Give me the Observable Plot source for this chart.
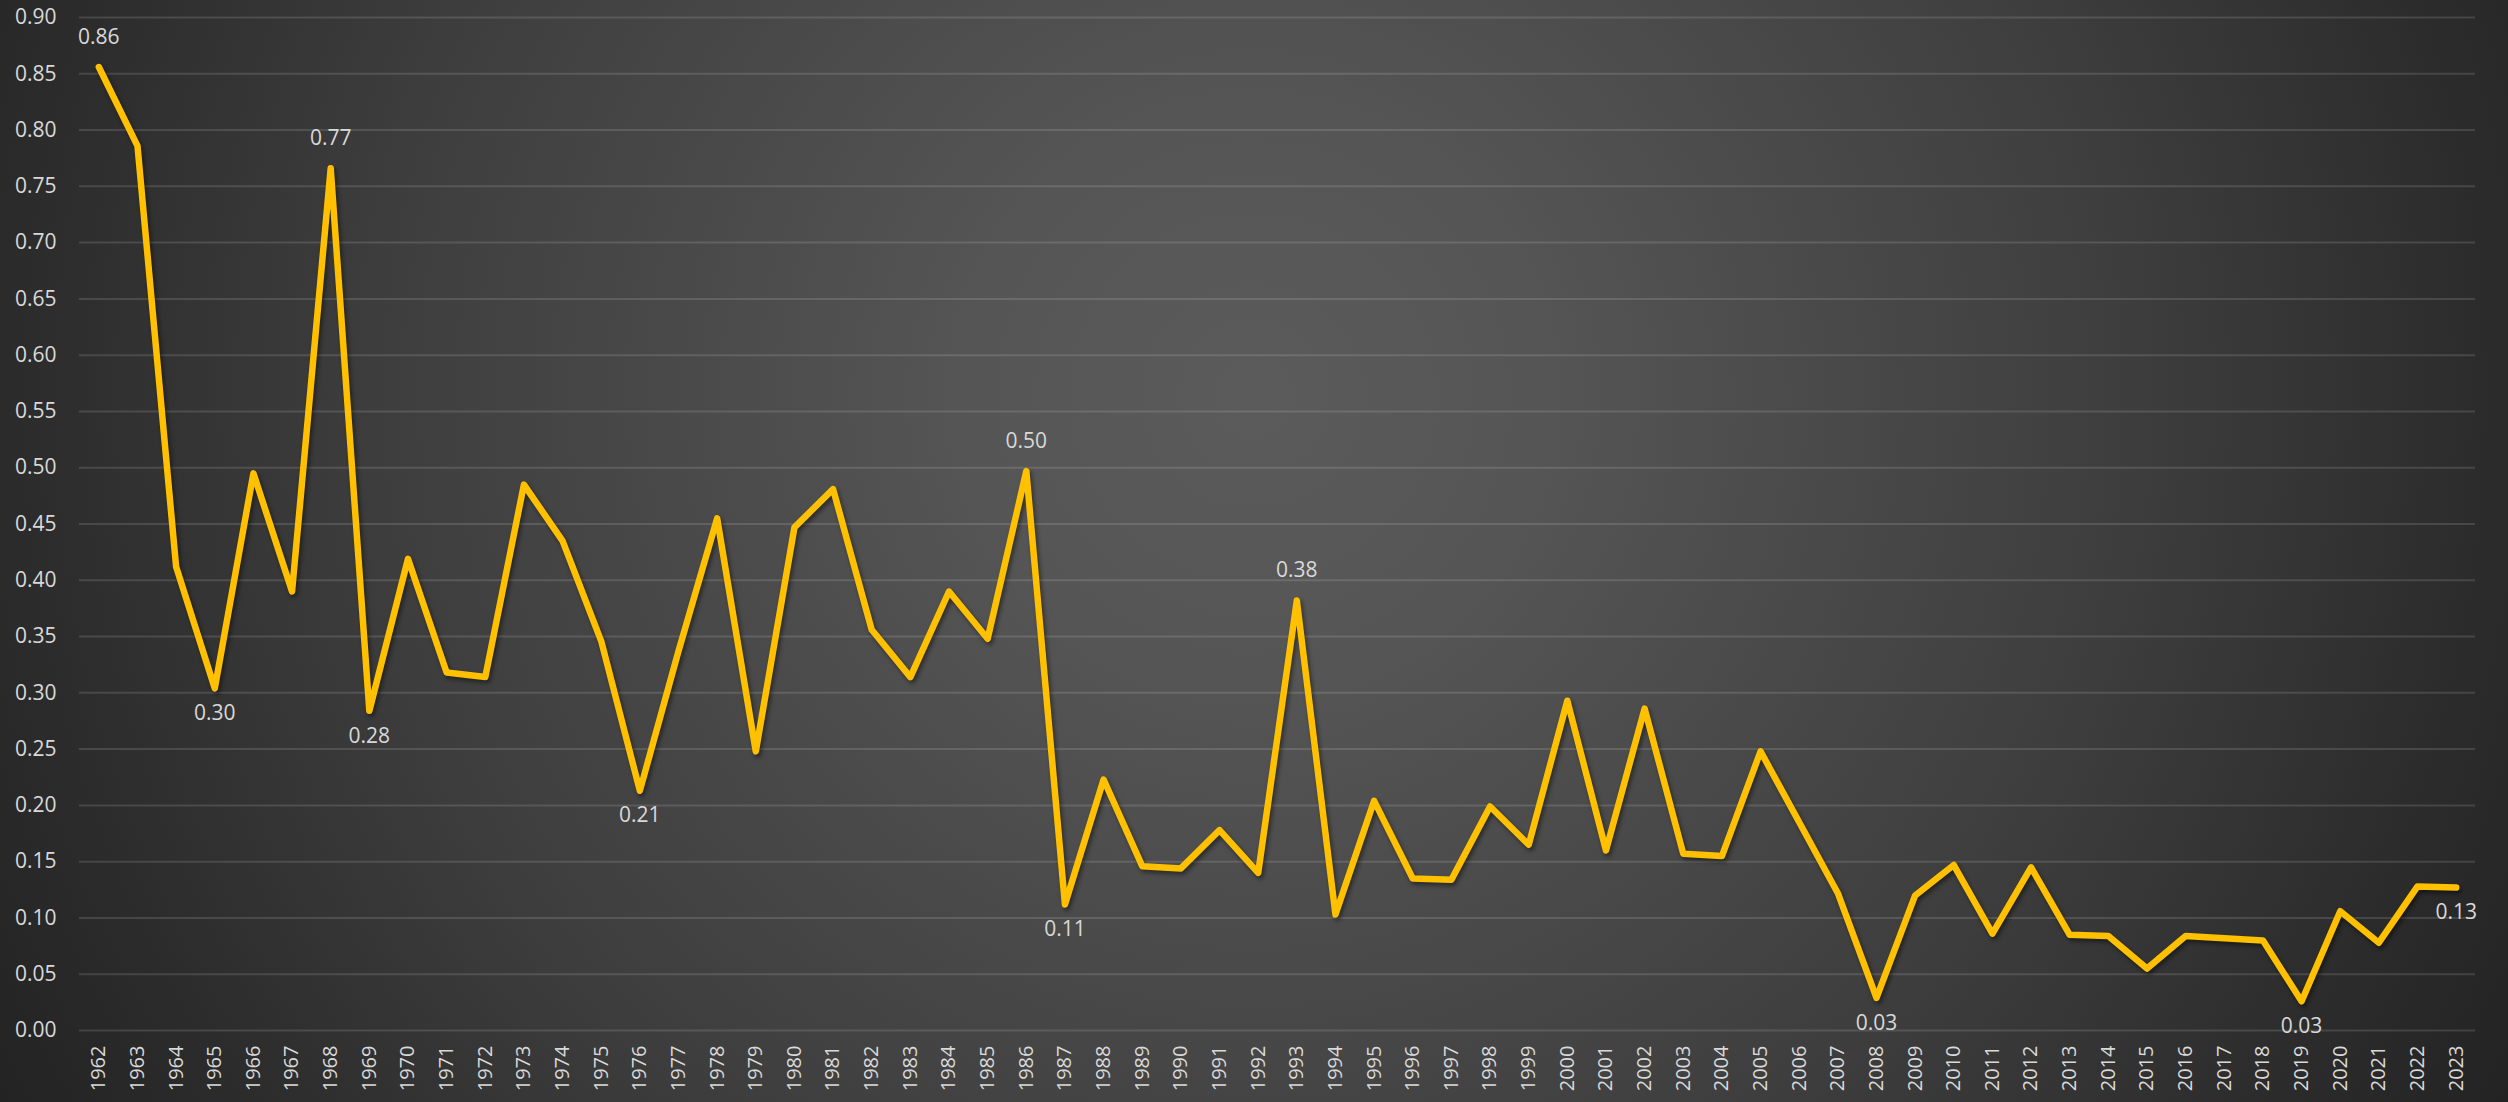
<!DOCTYPE html>
<html>
<head>
<meta charset="utf-8">
<script src="https://cdn.jsdelivr.net/npm/d3@7"></script>
<script src="https://cdn.jsdelivr.net/npm/@observablehq/plot@0.6"></script>
<style>
  html, body { margin: 0; padding: 0; background: #262626; }
  #chart svg { display: block; }
</style>
</head>
<body>
<div id="chart"></div>
<script>
const years = ["1962","1963","1964","1965","1966","1967","1968","1969","1970","1971","1972","1973","1974","1975","1976","1977","1978","1979","1980","1981","1982","1983","1984","1985","1986","1987","1988","1989","1990","1991","1992","1993","1994","1995","1996","1997","1998","1999","2000","2001","2002","2003","2004","2005","2006","2007","2008","2009","2010","2011","2012","2013","2014","2015","2016","2017","2018","2019","2020","2021","2022","2023"];
const values = [0.856,0.786,0.412,0.304,0.495,0.390,0.766,0.284,0.419,0.318,0.314,0.485,0.435,0.346,0.213,0.337,0.455,0.248,0.447,0.481,0.356,0.314,0.390,0.348,0.497,0.112,0.223,0.146,0.144,0.178,0.140,0.382,0.103,0.204,0.135,0.134,0.199,0.165,0.293,0.160,0.286,0.157,0.155,0.248,0.185,0.122,0.029,0.120,0.147,0.086,0.145,0.085,0.084,0.055,0.084,0.082,0.080,0.026,0.106,0.078,0.128,0.127];
const yTicks = [0,0.05,0.10,0.15,0.20,0.25,0.30,0.35,0.40,0.45,0.50,0.55,0.60,0.65,0.70,0.75,0.80,0.85,0.90];
const labelsAbove = ["1962","1968","1986","1993"];
const labelsBelow = ["1965","1969","1976","1987","2008","2019","2023"];

const data = years.map((y, i) => ({year: y, value: values[i]}));
const fmt = d3.format(".2f");
const font = "'Open Sans', 'DejaVu Sans', sans-serif";
const txt = "#d9d9d9";

const chart = Plot.plot({
  width: 2508,
  height: 1102,
  marginLeft: 79,
  marginRight: 33,
  marginTop: 17,
  marginBottom: 72,
  style: {
    background: "radial-gradient(circle farthest-corner at 50% 36%, #5b5b5b 0%, #555555 20%, #3e3e3e 60%, #2c2c2c 85%, #232323 100%)",
    color: txt,
    fontFamily: font
  },
  x: {type: "point", domain: years, padding: 0.5, label: null},
  y: {domain: [0, 0.9], label: null},
  marks: [
    Plot.gridY(yTicks, {stroke: "#ffffff", strokeOpacity: 0.13, strokeWidth: 2}),
    Plot.axisY({ticks: yTicks, tickFormat: fmt, tickSize: 0, tickPadding: 23, fontSize: 21, fill: txt, label: null}),
    Plot.axisX({tickRotate: -90, tickSize: 0, tickPadding: 15, fontSize: 20, fill: txt, label: null}),
    Plot.line(data, {x: "year", y: "value", stroke: "#FFC000", strokeWidth: 6.5, strokeLinejoin: "round", strokeLinecap: "round"}),
    Plot.text(data.filter(d => labelsAbove.includes(d.year)), {x: "year", y: "value", text: d => fmt(d.value), dy: -30, fontSize: 21, fill: txt}),
    Plot.text(data.filter(d => labelsBelow.includes(d.year)), {x: "year", y: "value", text: d => fmt(d.value), dy: 25, fontSize: 21, fill: txt})
  ]
});

d3.select(chart).selectAll("g[aria-label='line'] path").style("filter", "drop-shadow(2px 3px 2px rgba(0,0,0,0.45))");
document.getElementById("chart").appendChild(chart);
</script>
</body>
</html>
